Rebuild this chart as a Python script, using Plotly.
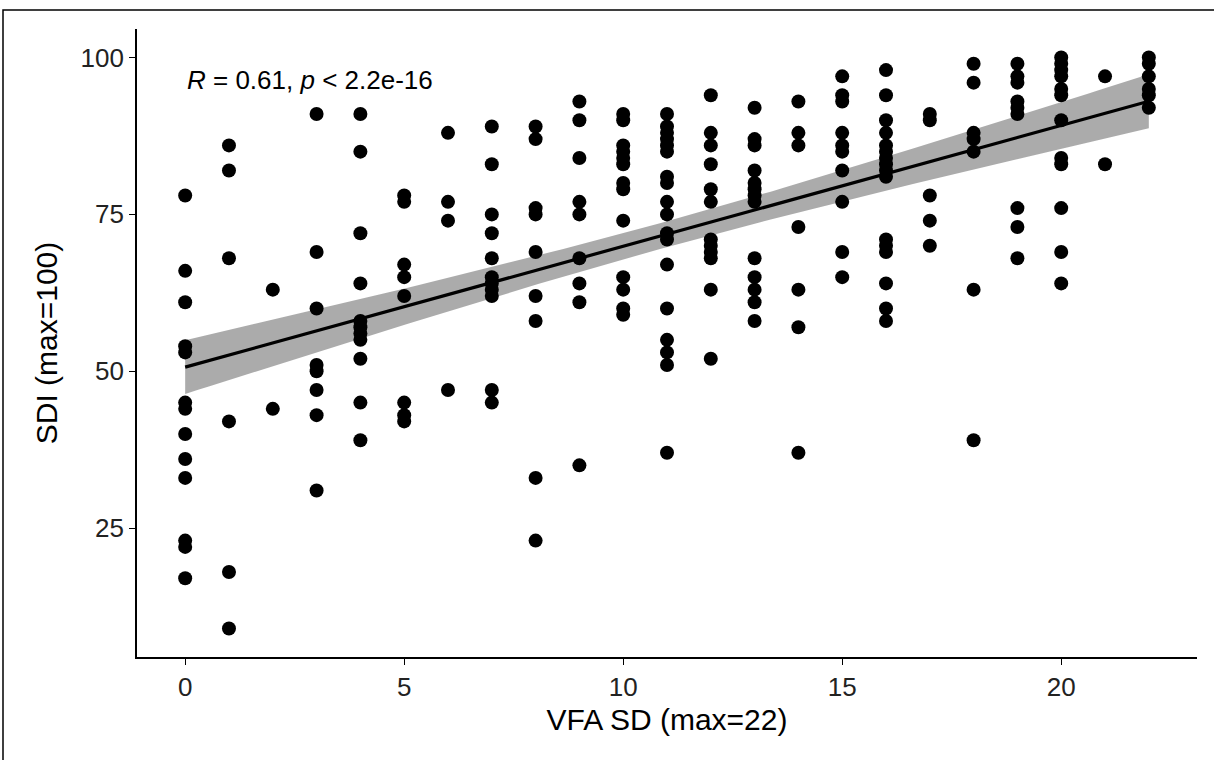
import numpy as np
import plotly.graph_objects as go

# ---- data (VFA SD score, SDI score) ----
vfa_sd = (
    [0] * 13 + [1] * 6 + [2] * 2 + [3] * 8 + [4] * 11 + [5] * 8 + [6] * 4 +
    [7] * 11 + [8] * 9 + [9] * 9 + [10] * 13 + [11] * 18 + [12] * 12 +
    [13] * 13 + [14] * 7 + [15] * 10 + [16] * 16 + [17] * 5 + [18] * 7 +
    [19] * 9 + [20] * 12 + [21] * 2 + [22] * 6
)
sdi = [
    78, 66, 61, 54, 53, 45, 44, 40, 36, 33, 23, 22, 17,          # 0
    86, 82, 68, 42, 18, 9,                                       # 1
    63, 44,                                                      # 2
    91, 69, 60, 51, 50, 47, 43, 31,                              # 3
    91, 85, 72, 64, 58, 57, 56, 55, 52, 45, 39,                  # 4
    78, 77, 67, 65, 62, 45, 43, 42,                              # 5
    88, 77, 74, 47,                                              # 6
    89, 83, 75, 72, 68, 65, 64, 63, 62, 47, 45,                  # 7
    89, 87, 76, 75, 69, 62, 58, 33, 23,                          # 8
    93, 90, 84, 77, 75, 68, 64, 61, 35,                          # 9
    91, 90, 86, 85, 84, 83, 80, 79, 74, 65, 63, 60, 59,          # 10
    91, 89, 88, 87, 86, 85, 81, 80, 77, 75, 72, 71, 67, 60, 55, 53, 51, 37,  # 11
    94, 88, 86, 83, 79, 77, 71, 70, 69, 68, 63, 52,              # 12
    92, 87, 86, 82, 80, 79, 78, 77, 68, 65, 63, 61, 58,          # 13
    93, 88, 86, 73, 63, 57, 37,                                  # 14
    97, 94, 93, 88, 86, 85, 82, 77, 69, 65,                      # 15
    98, 94, 90, 88, 86, 85, 84, 83, 82, 81, 71, 70, 69, 64, 60, 58,  # 16
    91, 90, 78, 74, 70,                                          # 17
    99, 96, 88, 87, 85, 63, 39,                                  # 18
    99, 97, 96, 93, 92, 91, 76, 73, 68,                          # 19
    100, 99, 98, 97, 95, 94, 90, 84, 83, 76, 69, 64,             # 20
    97, 83,                                                      # 21
    100, 99, 97, 95, 94, 92,                                     # 22
]
x_ticks = [0, 5, 10, 15, 20]
y_ticks = [25, 50, 75, 100]
stat_label = "<i>R</i> = 0.61, <i>p</i> &lt; 2.2e-16"

# ---- linear fit with 95% confidence band (computed from the data) ----
x = np.array(vfa_sd, dtype=float)
y = np.array(sdi, dtype=float)
n = len(x)
slope, intercept = np.polyfit(x, y, 1)
resid = y - (slope * x + intercept)
s = np.sqrt(np.sum(resid ** 2) / (n - 2))
xbar = x.mean()
sxx = np.sum((x - xbar) ** 2)
xf = np.linspace(x.min(), x.max(), 80)
yf = slope * xf + intercept
se = s * np.sqrt(1.0 / n + (xf - xbar) ** 2 / sxx)
t_crit = 1.971
lo = yf - t_crit * se
hi = yf + t_crit * se

FONT = "Liberation Sans, Arial, sans-serif"

fig = go.Figure()
fig.add_trace(go.Scatter(
    x=np.concatenate([xf, xf[::-1]]), y=np.concatenate([hi, lo[::-1]]),
    fill="toself", fillcolor="rgba(150,150,150,0.8)", line=dict(width=0),
    hoverinfo="skip", showlegend=False))
fig.add_trace(go.Scatter(
    x=vfa_sd, y=sdi, mode="markers",
    marker=dict(size=14, color="black"), showlegend=False))
fig.add_trace(go.Scatter(
    x=xf, y=yf, mode="lines", line=dict(color="black", width=3.2),
    showlegend=False))

axis_common = dict(
    showgrid=False, zeroline=False, showline=True, linecolor="black",
    linewidth=1.6, ticks="outside", ticklen=6, tickwidth=1.4,
    tickcolor="black", tickfont=dict(family=FONT, size=26, color="#222222"),
    mirror=False)

W, H = 1214, 760
L, R, T, B = 137, 17, 29, 103
plot_w = W - L - R
plot_h = H - T - B

fig.update_layout(
    width=W, height=H,
    margin=dict(l=L, r=R, t=T, b=B),
    paper_bgcolor="white", plot_bgcolor="white",
    xaxis=dict(range=[-1.1, 23.1], tickvals=x_ticks,
               title=dict(text="VFA SD (max=22)", standoff=8,
                          font=dict(family=FONT, size=30, color="black")),
               **axis_common),
    yaxis=dict(range=[4.45, 104.55], tickvals=y_ticks,
               title=dict(text="SDI (max=100)", standoff=14,
                          font=dict(family=FONT, size=30, color="black")),
               **axis_common),
    annotations=[dict(
        text=stat_label, x=0, y=96.5, xref="x", yref="y",
        xanchor="left", yanchor="middle", showarrow=False,
        font=dict(family=FONT, size=26, color="black"))],
    shapes=[dict(type="rect", xref="paper", yref="paper",
                 x0=(3 - L) / plot_w, x1=(W + 5 - L) / plot_w,
                 y0=-(H + 5 - T - plot_h) / plot_h,
                 y1=(T + plot_h - 10) / plot_h,
                 line=dict(color="black", width=1.5))],
)

fig.write_html(
    "out.html",
    config={"displayModeBar": False},
    post_script="document.body.style.margin='0';document.body.style.overflow='hidden';",
)
